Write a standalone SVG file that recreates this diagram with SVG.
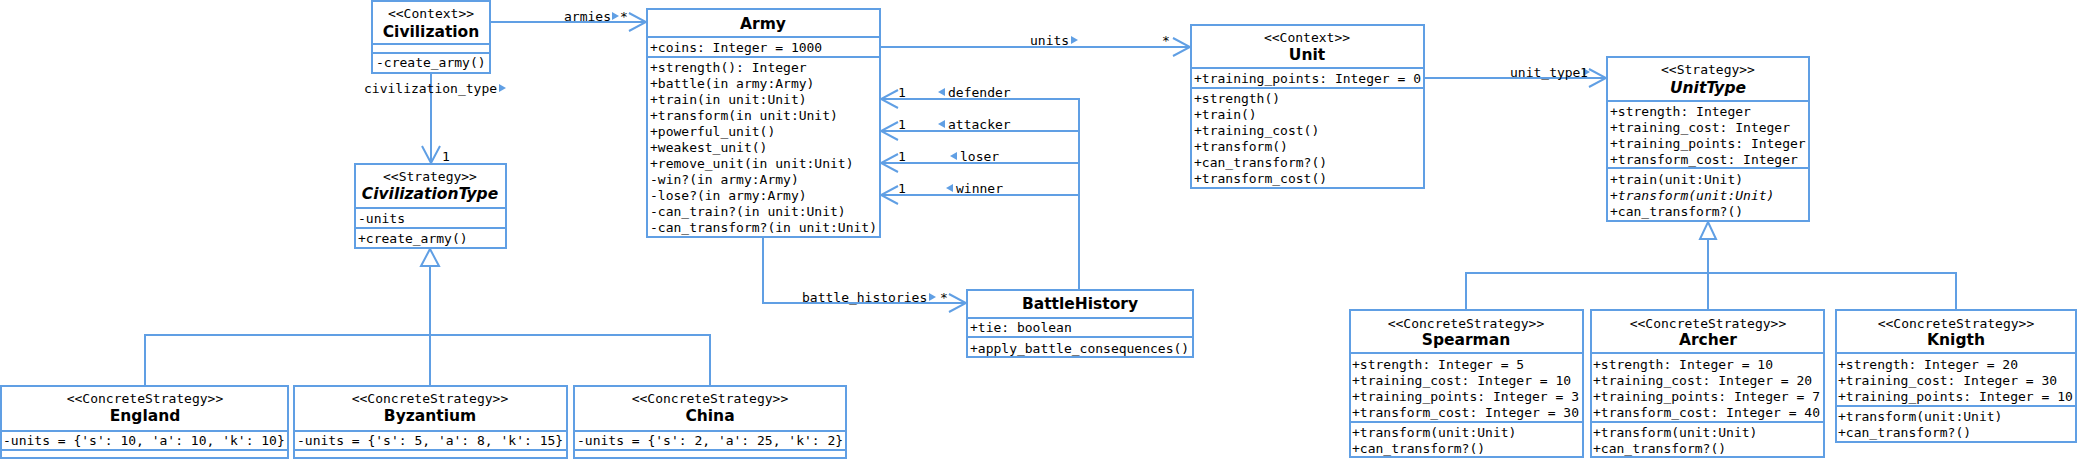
<svg xmlns="http://www.w3.org/2000/svg" width="2077" height="460" viewBox="0 0 2077 460">
<style>
.box{fill:#fff;stroke:#609fe4;stroke-width:2}
.sep{stroke:#609fe4;stroke-width:2}
.ln{stroke:#609fe4;stroke-width:2;fill:none}
.tri{fill:#609fe4}
.gen{fill:#fff;stroke:#609fe4;stroke-width:2}
.m{font-family:"DejaVu Sans Mono",monospace;font-size:13px;fill:#000}
.st{font-family:"DejaVu Sans Mono",monospace;font-size:13px;fill:#000;text-anchor:middle}
.nm{font-family:"DejaVu Sans",sans-serif;font-size:15.5px;font-weight:bold;fill:#000;text-anchor:middle}
.it{font-style:italic}
.lb{font-family:"DejaVu Sans Mono",monospace;font-size:13px;fill:#000}
</style>
<defs>
<marker id="open" viewBox="-19 -11 21 22" markerWidth="21" markerHeight="22" refX="0" refY="0" orient="auto" markerUnits="userSpaceOnUse">
<path d="M -17 -9 L 0 0 L -17 9" fill="none" stroke="#609fe4" stroke-width="2"/>
</marker>
</defs>

<g id="connectors">
<line class="ln" x1="490" y1="22" x2="646" y2="22" marker-end="url(#open)"/>
<line class="ln" x1="880" y1="47" x2="1190" y2="47" marker-end="url(#open)"/>
<line class="ln" x1="1424" y1="78" x2="1606" y2="78" marker-end="url(#open)"/>
<line class="ln" x1="431" y1="73" x2="431" y2="163" marker-end="url(#open)"/>
<polyline class="ln" points="763,237 763,303 966,303" marker-end="url(#open)"/>
<polyline class="ln" points="1079,290 1079,99 881,99" marker-end="url(#open)"/>
<line class="ln" x1="1079" y1="131" x2="881" y2="131" marker-end="url(#open)"/>
<line class="ln" x1="1079" y1="163" x2="881" y2="163" marker-end="url(#open)"/>
<line class="ln" x1="1079" y1="195" x2="881" y2="195" marker-end="url(#open)"/>
<polyline class="ln" points="145,386 145,335 710,335 710,386"/>
<line class="ln" x1="430" y1="266" x2="430" y2="386"/>
<polygon class="gen" points="430,249 439,266 421,266"/>
<polyline class="ln" points="1466,310 1466,273 1956,273 1956,310"/>
<line class="ln" x1="1708" y1="239" x2="1708" y2="310"/>
<polygon class="gen" points="1708,222 1716,239 1700,239"/>
<text class="lb" x="564" y="20.5">armies</text>
<polygon class="tri" points="612,12 619,16 612,20"/>
<text class="lb" x="620" y="20.5">*</text>
<text class="lb" x="364" y="92.5">civilization_type</text>
<polygon class="tri" points="499,84 506,88 499,92"/>
<text class="lb" x="442" y="160.5">1</text>
<text class="lb" x="1030" y="44.5">units</text>
<polygon class="tri" points="1071,36 1078,40 1071,44"/>
<text class="lb" x="1162" y="44.5">*</text>
<text class="lb" x="1510" y="76.5">unit_type</text>
<polygon class="tri" points="1583,68 1590,72 1583,76"/>
<text class="lb" x="1580" y="76.5">1</text>
<text class="lb" x="802" y="301.5">battle_histories</text>
<polygon class="tri" points="929,293 936,297 929,301"/>
<text class="lb" x="940" y="301.5">*</text>
<text class="lb" x="898" y="96.5">1</text>
<polygon class="tri" points="938,92 945,88 945,96"/>
<text class="lb" x="948" y="96.5">defender</text>
<text class="lb" x="898" y="128.5">1</text>
<polygon class="tri" points="938,124 945,120 945,128"/>
<text class="lb" x="948" y="128.5">attacker</text>
<text class="lb" x="898" y="160.5">1</text>
<polygon class="tri" points="950,156 957,152 957,160"/>
<text class="lb" x="960" y="160.5">loser</text>
<text class="lb" x="898" y="192.5">1</text>
<polygon class="tri" points="946,188 953,184 953,192"/>
<text class="lb" x="956" y="192.5">winner</text>
</g>

<g id="civilization">
<rect class="box" x="372" y="1" width="118" height="72"/>
<line class="sep" x1="372" y1="44" x2="490" y2="44"/>
<line class="sep" x1="372" y1="53" x2="490" y2="53"/>
<text class="st" x="431" y="17.5">&lt;&lt;Context&gt;&gt;</text>
<text class="nm" x="431" y="36.5">Civilization</text>
<text class="m" x="376" y="66.5">-create_army()</text>
</g>

<g id="army">
<rect class="box" x="647" y="9" width="233" height="228"/>
<line class="sep" x1="647" y1="37" x2="880" y2="37"/>
<line class="sep" x1="647" y1="57" x2="880" y2="57"/>
<text class="nm" x="763" y="28.5">Army</text>
<text class="m" x="650" y="51.5">+coins: Integer = 1000</text>
<text class="m" x="650" y="71.5">+strength(): Integer</text>
<text class="m" x="650" y="87.5">+battle(in army:Army)</text>
<text class="m" x="650" y="103.5">+train(in unit:Unit)</text>
<text class="m" x="650" y="119.5">+transform(in unit:Unit)</text>
<text class="m" x="650" y="135.5">+powerful_unit()</text>
<text class="m" x="650" y="151.5">+weakest_unit()</text>
<text class="m" x="650" y="167.5">+remove_unit(in unit:Unit)</text>
<text class="m" x="650" y="183.5">-win?(in army:Army)</text>
<text class="m" x="650" y="199.5">-lose?(in army:Army)</text>
<text class="m" x="650" y="215.5">-can_train?(in unit:Unit)</text>
<text class="m" x="650" y="231.5">-can_transform?(in unit:Unit)</text>
</g>

<g id="unit">
<rect class="box" x="1191" y="25" width="233" height="163"/>
<line class="sep" x1="1191" y1="68" x2="1424" y2="68"/>
<line class="sep" x1="1191" y1="88" x2="1424" y2="88"/>
<text class="st" x="1307" y="41.5">&lt;&lt;Context&gt;&gt;</text>
<text class="nm" x="1307" y="59.5">Unit</text>
<text class="m" x="1194" y="82.5">+training_points: Integer = 0</text>
<text class="m" x="1194" y="102.5">+strength()</text>
<text class="m" x="1194" y="118.5">+train()</text>
<text class="m" x="1194" y="134.5">+training_cost()</text>
<text class="m" x="1194" y="150.5">+transform()</text>
<text class="m" x="1194" y="166.5">+can_transform?()</text>
<text class="m" x="1194" y="182.5">+transform_cost()</text>
</g>

<g id="unittype">
<rect class="box" x="1607" y="57" width="202" height="164"/>
<line class="sep" x1="1607" y1="101" x2="1809" y2="101"/>
<line class="sep" x1="1607" y1="168" x2="1809" y2="168"/>
<text class="st" x="1708" y="73.5">&lt;&lt;Strategy&gt;&gt;</text>
<text class="nm it" x="1708" y="92.5">UnitType</text>
<text class="m" x="1610" y="115.5">+strength: Integer</text>
<text class="m" x="1610" y="131.5">+training_cost: Integer</text>
<text class="m" x="1610" y="147.5">+training_points: Integer</text>
<text class="m" x="1610" y="163.5">+transform_cost: Integer</text>
<text class="m" x="1610" y="183.5">+train(unit:Unit)</text>
<text class="m it" x="1610" y="199.5">+transform(unit:Unit)</text>
<text class="m" x="1610" y="215.5">+can_transform?()</text>
</g>

<g id="civilizationtype">
<rect class="box" x="355" y="164" width="151" height="84"/>
<line class="sep" x1="355" y1="208" x2="506" y2="208"/>
<line class="sep" x1="355" y1="228" x2="506" y2="228"/>
<text class="st" x="430" y="180.5">&lt;&lt;Strategy&gt;&gt;</text>
<text class="nm it" x="430" y="198.5">CivilizationType</text>
<text class="m" x="358" y="222.5">-units</text>
<text class="m" x="358" y="242.5">+create_army()</text>
</g>

<g id="battlehistory">
<rect class="box" x="967" y="290" width="226" height="67"/>
<line class="sep" x1="967" y1="318" x2="1193" y2="318"/>
<line class="sep" x1="967" y1="337" x2="1193" y2="337"/>
<text class="nm" x="1080" y="308.5">BattleHistory</text>
<text class="m" x="970" y="331.5">+tie: boolean</text>
<text class="m" x="970" y="352.5">+apply_battle_consequences()</text>
</g>

<g id="england">
<rect class="box" x="1" y="386" width="287" height="72"/>
<line class="sep" x1="1" y1="431" x2="288" y2="431"/>
<line class="sep" x1="1" y1="450" x2="288" y2="450"/>
<text class="st" x="145" y="402.5">&lt;&lt;ConcreteStrategy&gt;&gt;</text>
<text class="nm" x="145" y="420.5">England</text>
<text class="m" x="3" y="444.5">-units = {'s': 10, 'a': 10, 'k': 10}</text>
</g>

<g id="byzantium">
<rect class="box" x="294" y="386" width="273" height="72"/>
<line class="sep" x1="294" y1="431" x2="567" y2="431"/>
<line class="sep" x1="294" y1="450" x2="567" y2="450"/>
<text class="st" x="430" y="402.5">&lt;&lt;ConcreteStrategy&gt;&gt;</text>
<text class="nm" x="430" y="420.5">Byzantium</text>
<text class="m" x="297" y="444.5">-units = {'s': 5, 'a': 8, 'k': 15}</text>
</g>

<g id="china">
<rect class="box" x="574" y="386" width="272" height="72"/>
<line class="sep" x1="574" y1="431" x2="846" y2="431"/>
<line class="sep" x1="574" y1="450" x2="846" y2="450"/>
<text class="st" x="710" y="402.5">&lt;&lt;ConcreteStrategy&gt;&gt;</text>
<text class="nm" x="710" y="420.5">China</text>
<text class="m" x="577" y="444.5">-units = {'s': 2, 'a': 25, 'k': 2}</text>
</g>

<g id="spearman">
<rect class="box" x="1350" y="310" width="233" height="147"/>
<line class="sep" x1="1350" y1="353" x2="1583" y2="353"/>
<line class="sep" x1="1350" y1="422" x2="1583" y2="422"/>
<text class="st" x="1466" y="327.5">&lt;&lt;ConcreteStrategy&gt;&gt;</text>
<text class="nm" x="1466" y="344.5">Spearman</text>
<text class="m" x="1352" y="368.5">+strength: Integer = 5</text>
<text class="m" x="1352" y="384.5">+training_cost: Integer = 10</text>
<text class="m" x="1352" y="400.5">+training_points: Integer = 3</text>
<text class="m" x="1352" y="416.5">+transform_cost: Integer = 30</text>
<text class="m" x="1352" y="436.5">+transform(unit:Unit)</text>
<text class="m" x="1352" y="452.5">+can_transform?()</text>
</g>

<g id="archer">
<rect class="box" x="1591" y="310" width="233" height="147"/>
<line class="sep" x1="1591" y1="353" x2="1824" y2="353"/>
<line class="sep" x1="1591" y1="422" x2="1824" y2="422"/>
<text class="st" x="1708" y="327.5">&lt;&lt;ConcreteStrategy&gt;&gt;</text>
<text class="nm" x="1708" y="344.5">Archer</text>
<text class="m" x="1593" y="368.5">+strength: Integer = 10</text>
<text class="m" x="1593" y="384.5">+training_cost: Integer = 20</text>
<text class="m" x="1593" y="400.5">+training_points: Integer = 7</text>
<text class="m" x="1593" y="416.5">+transform_cost: Integer = 40</text>
<text class="m" x="1593" y="436.5">+transform(unit:Unit)</text>
<text class="m" x="1593" y="452.5">+can_transform?()</text>
</g>

<g id="knigth">
<rect class="box" x="1836" y="310" width="240" height="132"/>
<line class="sep" x1="1836" y1="353" x2="2076" y2="353"/>
<line class="sep" x1="1836" y1="406" x2="2076" y2="406"/>
<text class="st" x="1956" y="327.5">&lt;&lt;ConcreteStrategy&gt;&gt;</text>
<text class="nm" x="1956" y="344.5">Knigth</text>
<text class="m" x="1838" y="368.5">+strength: Integer = 20</text>
<text class="m" x="1838" y="384.5">+training_cost: Integer = 30</text>
<text class="m" x="1838" y="400.5">+training_points: Integer = 10</text>
<text class="m" x="1838" y="420.5">+transform(unit:Unit)</text>
<text class="m" x="1838" y="436.5">+can_transform?()</text>
</g>
</svg>
